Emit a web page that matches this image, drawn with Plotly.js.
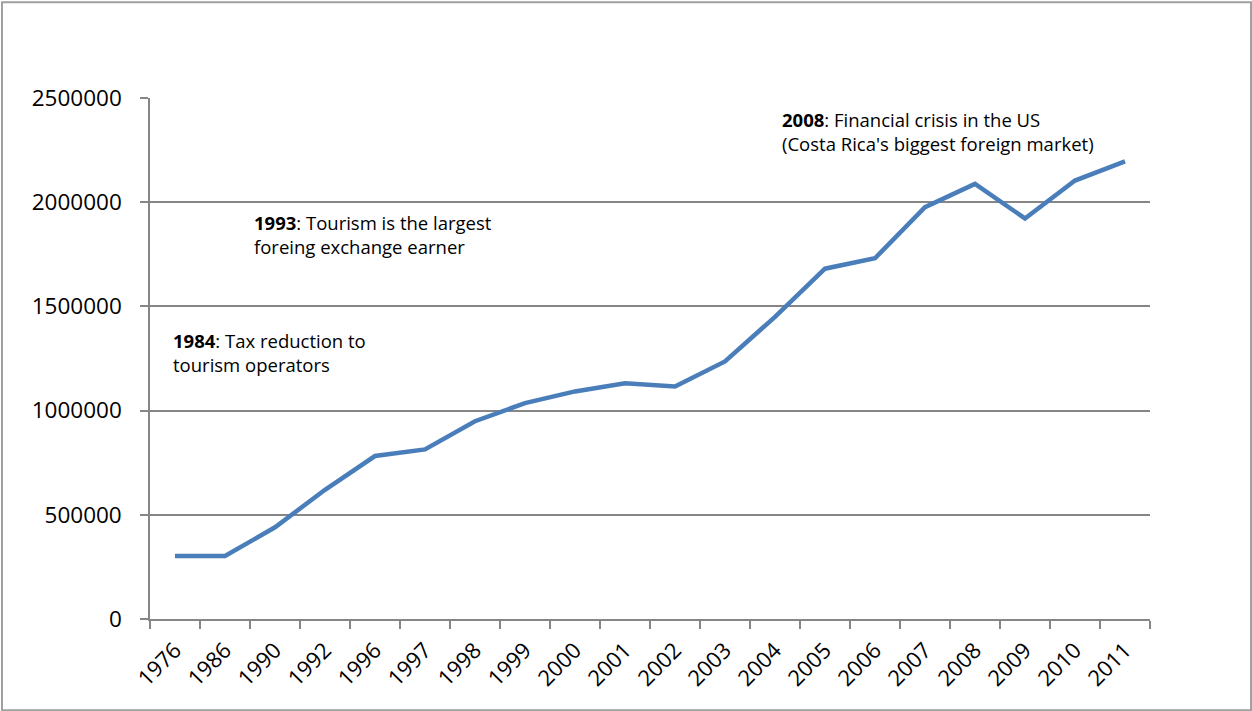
<!DOCTYPE html>
<html>
<head>
<meta charset="utf-8">
<script src="https://cdn.plot.ly/plotly-3.0.1.min.js"></script>
<style>
html,body{margin:0;padding:0;background:#fff;}
#chart{width:1252px;height:711px;}
</style>
</head>
<body>
<div id="chart"></div>
<script>
const years = ["1976","1986","1990","1992","1996","1997","1998","1999","2000","2001","2002","2003","2004","2005","2006","2007","2008","2009","2010","2011"];
const arrivals = [302000,302000,440000,620000,782000,814000,949000,1036000,1092000,1131000,1116000,1236000,1450000,1681000,1731000,1976000,2088000,1922000,2104000,2196000];
const yTicks = [0,500000,1000000,1500000,2000000,2500000];
const notes = [
  {text:"<b>1984</b>: Tax reduction to<br>tourism operators", x:0.021, y:0.562},
  {text:"<b>1993</b>: Tourism is the largest<br>foreing exchange earner", x:0.102, y:0.789},
  {text:"<b>2008</b>: Financial crisis in the US<br>(Costa Rica's biggest foreign market)", x:0.630, y:0.987}
];

const font = "Open Sans, Noto Sans, sans-serif";
const trace = {
  x: years, y: arrivals, type: "scatter", mode: "lines",
  line: {color: "#4a7ebb", width: 4.5},
  hoverinfo: "x+y"
};
const layout = {
  width: 1252, height: 711,
  margin: {l:150, r:102, t:98, b:92},
  paper_bgcolor: "#ffffff", plot_bgcolor: "#ffffff",
  showlegend: false,
  font: {family: font, color: "#000"},
  xaxis: {
    type: "category", tickson: "boundaries", range: [-0.5, years.length - 0.5],
    showgrid: false, showline: true, linecolor: "#868686", linewidth: 1.5,
    ticks: "outside", ticklen: 8, tickcolor: "#868686", tickwidth: 1.5,
    ticklabelstandoff: 8,
    tickangle: -45, tickfont: {family: font, size: 22, color: "#000"},
    zeroline: false, fixedrange: true
  },
  yaxis: {
    range: [0, 2500000], tickvals: yTicks, ticktext: yTicks.map(String),
    showgrid: true, gridcolor: "#868686", gridwidth: 1.5,
    showline: true, linecolor: "#868686", linewidth: 1.5,
    ticks: "outside", ticklen: 8, tickcolor: "#868686", tickwidth: 1.5,
    ticklabelstandoff: 14,
    tickfont: {family: font, size: 22.5, color: "#000"},
    zeroline: false, fixedrange: true
  },
  annotations: notes.map(n => ({
    text: n.text, x: n.x, y: n.y, xref: "paper", yref: "paper",
    xanchor: "left", yanchor: "top", align: "left", showarrow: false,
    font: {family: font, size: 18.5, color: "#000"}
  })),
  shapes: [{
    type: "rect", xref: "paper", yref: "paper",
    x0: -0.148, x1: 1.101, y0: -0.175, y1: 1.184,
    line: {color: "#a0a0a0", width: 2}, fillcolor: "rgba(0,0,0,0)"
  }]
};
Plotly.newPlot("chart", [trace], layout, {displayModeBar: false});
</script>
</body>
</html>
